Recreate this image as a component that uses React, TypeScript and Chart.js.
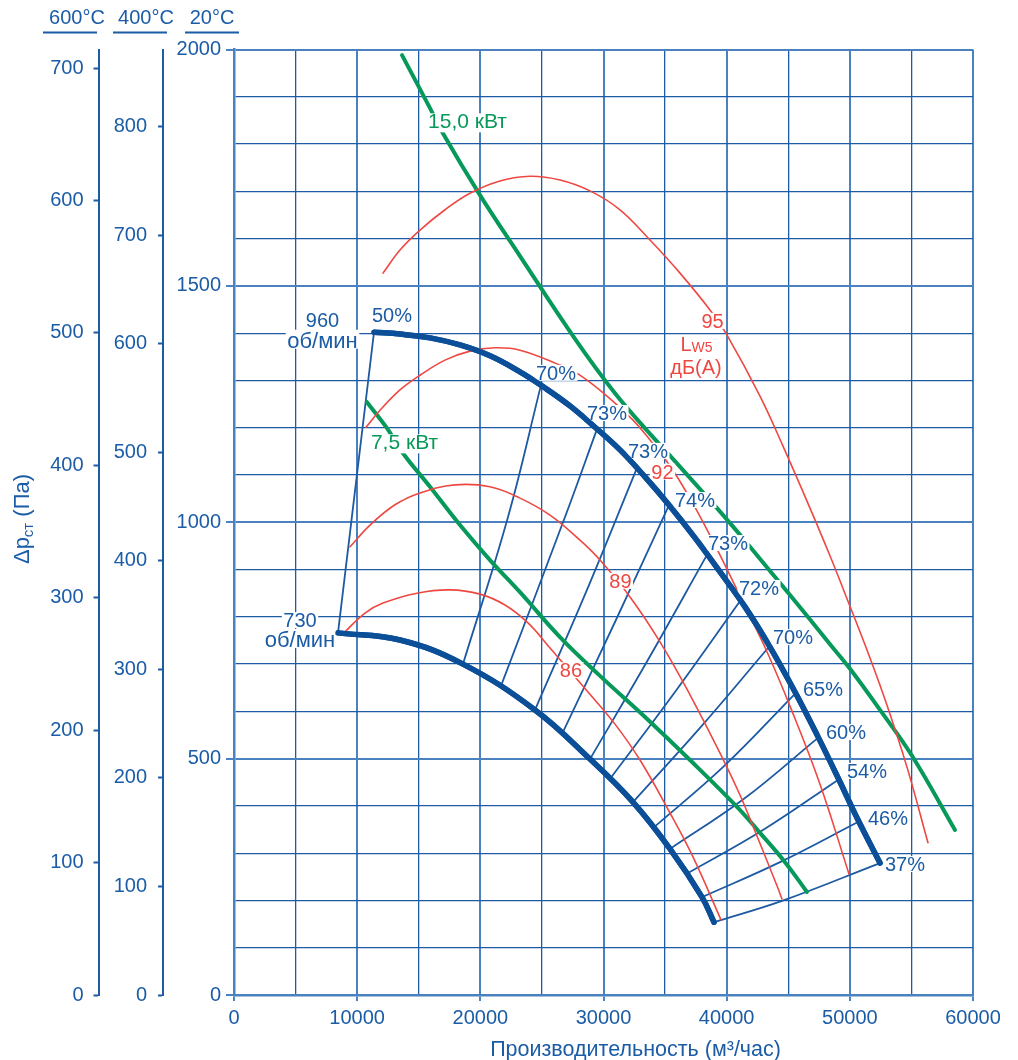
import React, { useEffect, useRef } from 'react';
import { Chart, registerables } from 'chart.js';

Chart.register(...registerables);

// ---------- data (Q in m3/h, static pressure in Pa at 20°C) ----------
const rpm960 = [[11370,1402],[13480,1398],[15920,1390],[18350,1375],[20790,1352],[23220,1318],[25250,1284],[27280,1246],[29310,1201],[31340,1153],[33370,1096],[35400,1034],[37430,967],[39460,895],[41490,821],[43520,736],[45550,641],[47420,546],[49050,459],[50670,370],[52450,279]];
const rpm730 = [[8444,766],[13478,751],[18593,700],[24438,603],[28904,499],[32395,408],[35399,309],[37997,207],[38971,154]];

const effLines = [
  [[8444,766],[11367,1402]],
  [[18593,700],[22246,1011],[24925,1290]],
  [[21678,654],[26874,1011],[29472,1197]],
  [[24438,603],[28579,852],[32720,1115]],
  [[26630,552],[30933,789],[35318,1036]],
  [[28904,499],[33613,709],[38403,931]],
  [[30527,457],[35805,641],[41163,836]],
  [[32395,408],[37834,565],[43355,734]],
  [[34019,353],[39783,484],[45548,637]],
  [[35399,309],[41407,415],[47415,544]],
  [[36860,258],[42949,349],[49038,455]],
  [[37997,207],[44330,281],[50663,366]],
  [[38971,154],[44492,199],[52449,279]],
];
const effLabels = ['50%','70%','73%','73%','74%','73%','72%','70%','65%','60%','54%','46%','37%'];
const effLabelAt = [[12828,1438],[26143,1316],[30284,1231],[33613,1151],[37429,1047],[40108,956],[42625,861],[45385,757],[47821,647],[49688,556],[51393,474],[53098,374],[54478,277]];

const noise95 = [[12097,1527],[13478,1576],[15101,1618],[17131,1661],[19161,1696],[21597,1722],[24033,1732],[26468,1724],[28904,1701],[31340,1661],[33775,1597],[36211,1527],[38646,1449],[40027,1396],[42706,1267],[44573,1161],[46765,1030],[48389,929],[49850,833],[51636,713],[53017,613],[54641,482],[56346,322]];
const noise92 = [[10717,1201],[11854,1237],[13478,1280],[15101,1311],[17131,1343],[19161,1362],[21191,1369],[23221,1364],[26224,1335],[27929,1314],[30284,1267],[32313,1218],[33369,1187],[35399,1119],[37185,1043],[39296,939],[41326,831],[43274,726],[45141,611],[47577,446],[49932,256]];
const noise89 = [[9418,948],[11042,994],[13072,1037],[15101,1062],[17943,1079],[20785,1075],[23221,1051],[25656,1015],[28092,962],[29716,920],[32151,842],[34587,747],[37023,635],[39702,499],[41082,423],[42138,357],[44086,231],[44492,203]];
const noise86 = [[8850,764],[10636,808],[12097,829],[14858,850],[17537,857],[19973,848],[22002,825],[23870,787],[25656,734],[28741,641],[30933,573],[32963,497],[35399,385],[37266,292],[39540,159]];
const noiseLabels = ['95','92','89','86'];
const noiseLabelAt = [[38850,1426],[34790,1107],[31380,876],[27361,687]];
const noiseUnitAt = [[37550,1376],[37510,1329]];

const power15 = [[13640,1988],[15913,1876],[16888,1826],[19973,1692],[23221,1563],[27686,1388],[30933,1273],[34019,1180],[35561,1136],[37672,1075],[39215,1030],[40676,986],[41894,948],[45141,846],[48389,742],[50013,690],[52449,603],[55047,506],[58538,349]];
const power75 = [[10798,1254],[12422,1199],[13721,1146],[15913,1075],[18349,994],[20785,920],[23221,852],[26468,757],[29716,675],[33369,588],[37023,497],[40839,398],[42706,343],[44736,281],[46522,218]];
const powerLabels = ['15,0 кВт','7,5 кВт'];
const powerLabelAt = [[18958,1848],[13843,1169]];

const rpmLabels = [['960','об/мин'],['730','об/мин']];
const rpmLabelAt = [[[7185,1427],[7185,1384]],[[5359,793],[5359,751]]];

const tempTitles = ['600°C','400°C','20°C'];
const xTitle = 'Производительность (м³/час)';
const xTitleAnchor = 32600;
const ratio400 = 2.2963; // p(20°C) / p(400°C)
const ratio600 = 2.801;  // p(20°C) / p(600°C) as drawn

// ---------- styles ----------
const FONT = '"Liberation Sans", Arial, Helvetica, sans-serif';
const TXT = '#1b5ca6';
const GRID = '#1d5ca4';
const GRID_MAJOR = '#4a82c0';
const THICK = '#0b4f99';
const THIN = '#1d5aa2';
const RED = '#ee4842';
const GREEN = '#07995a';

export default function App() {
  const ref = useRef<HTMLCanvasElement>(null);

  useEffect(() => {
    document.body.style.margin = '0';
    const canvas = ref.current!;
    const pts = (a: number[][]) => a.map(([x, y]) => ({ x, y }));
    const ds = (data: number[][], color: string, width: number, order: number) => ({
      type: 'line',
      data: pts(data),
      borderColor: color,
      borderWidth: width,
      pointRadius: 0,
      fill: false,
      borderCapStyle: 'round',
      borderJoinStyle: 'round',
      tension: data.length > 2 ? 0.4 : 0,
      order,
      xAxisID: 'x',
      yAxisID: 'y',
    });

    const datasets: any[] = [];
    effLines.forEach((l) => datasets.push(ds(l, THIN, 1.8, 4)));
    const thickIdx = [datasets.length, datasets.length + 1];
    datasets.push(ds(rpm960, THICK, 5.5, 3));
    datasets.push(ds(rpm730, THICK, 5.5, 3));
    datasets.push(ds(power15, GREEN, 4, 2));
    datasets.push(ds(power75, GREEN, 4, 2));
    [noise95, noise92, noise89, noise86].forEach((n) => datasets.push(ds(n, RED, 1.6, 1)));

    const labelPlugin = {
      id: 'labelPlugin',
      afterDatasetsDraw(chart: any) {
        const { ctx, scales } = chart;
        const sx = scales.x, sy = scales.y;
        type Item = { text: string; left: number; base: number; color: string; font: string; box: boolean; w: number; asc: number; desc: number };
        const items: Item[] = [];
        const add = (text: string, vx: number, vy: number, color: string, size = 20, box = true, dy = 0, align = 'center') => {
          const px = sx.getPixelForValue(vx);
          const py = sy.getPixelForValue(vy) + dy;
          const font = `${size}px ${FONT}`;
          ctx.font = font;
          const m = ctx.measureText(text);
          const w = m.width;
          const left = align === 'center' ? px - w / 2 : px;
          items.push({ text, left, base: py + 7, color, font, box, w, asc: m.actualBoundingBoxAscent, desc: m.actualBoundingBoxDescent });
        };
        effLabels.forEach((t, i) => add(t, effLabelAt[i][0], effLabelAt[i][1], TXT));
        noiseLabels.forEach((t, i) => add(t, noiseLabelAt[i][0], noiseLabelAt[i][1], RED));
        powerLabels.forEach((t, i) => add(t, powerLabelAt[i][0], powerLabelAt[i][1], GREEN, 21));
        rpmLabels.forEach((pair, i) => pair.forEach((t, j) => add(t, rpmLabelAt[i][j][0], rpmLabelAt[i][j][1], TXT, j === 1 ? 22 : 20)));
        add('дБ(А)', noiseUnitAt[1][0], noiseUnitAt[1][1], RED);
        {
          ctx.font = `20px ${FONT}`;
          const wL = ctx.measureText('L').width;
          ctx.font = `14px ${FONT}`;
          const wS = ctx.measureText('W5').width;
          const px = sx.getPixelForValue(noiseUnitAt[0][0]);
          const left = px - (wL + wS) / 2;
          add('L', sx.getValueForPixel(left), noiseUnitAt[0][1], RED, 20, false, 0, 'left');
          add('W5', sx.getValueForPixel(left + wL), noiseUnitAt[0][1], RED, 14, false, 1, 'left');
        }
        ctx.save();
        ctx.fillStyle = '#ffffff';
        items.forEach((it) => {
          if (!it.box) return;
          ctx.fillRect(it.left - 1.5, it.base - it.asc - 1, it.w + 3, it.asc + it.desc + 2);
        });
        ctx.restore();
        thickIdx.forEach((i) => {
          const meta = chart.getDatasetMeta(i);
          if (meta && meta.controller) meta.controller.draw();
        });
        ctx.save();
        ctx.textAlign = 'left';
        ctx.textBaseline = 'alphabetic';
        items.forEach((it) => {
          ctx.font = it.font;
          ctx.fillStyle = it.color;
          ctx.fillText(it.text, it.left, it.base);
        });
        ctx.restore();
      },
      afterDraw(chart: any) {
        const { ctx, scales } = chart;
        ctx.save();
        ctx.fillStyle = TXT;
        ctx.textBaseline = 'alphabetic';
        ctx.textAlign = 'center';
        ctx.font = `20px ${FONT}`;
        const a600 = scales.y600.right, a400 = scales.y400.right, a20 = scales.y.right;
        const specs = [
          [a600 - 21.5, a600 - 55.5, a600 - 1.5],
          [a400 - 17, a400 - 50, a400 + 4],
          [a20 - 22, a20 - 49, a20 + 5],
        ];
        tempTitles.forEach((t, i) => {
          const [cx, u0, u1] = specs[i];
          ctx.fillText(t, cx, 24);
          ctx.fillRect(u0, 31.5, u1 - u0, 2);
        });
        ctx.font = `21.5px ${FONT}`;
        ctx.fillText(xTitle, scales.x.getPixelForValue(xTitleAnchor), scales.x.bottom - 4);
        ctx.translate(21, 519);
        ctx.rotate(-Math.PI / 2);
        ctx.textAlign = 'left';
        const f1 = `22px ${FONT}`, f2 = `15px ${FONT}`;
        ctx.font = f1;
        const w1 = ctx.measureText('Δp').width;
        const w3 = ctx.measureText(' (Па)').width;
        ctx.font = f2;
        const w2 = ctx.measureText('ст').width;
        let cx = -(w1 + w2 + w3) / 2;
        ctx.font = f1; ctx.fillText('Δp', cx, 8); cx += w1;
        ctx.font = f2; ctx.fillText('ст', cx, 12); cx += w2;
        ctx.font = f1; ctx.fillText(' (Па)', cx, 8);
        ctx.restore();
      },
    };

    const tickFont = { family: FONT, size: 20 };
    const chart = new Chart(canvas, {
      type: 'line',
      data: { datasets },
      options: {
        animation: false,
        responsive: false,
        parsing: false,
        normalized: true,
        layout: { padding: { left: 0, right: 45, top: 49.5, bottom: 0 } },
        plugins: { legend: { display: false }, tooltip: { enabled: false }, title: { display: false } },
        scales: {
          x: {
            type: 'linear',
            position: 'bottom',
            min: 0,
            max: 60000,
            afterFit: (s: any) => { s.height = 65; },
            ticks: {
              stepSize: 5000,
              autoSkip: false,
              maxRotation: 0,
              includeBounds: false,
              padding: 5,
              color: TXT,
              font: tickFont,
              callback: (v: any) => (Number(v) % 10000 === 0 ? String(v) : ''),
            },
            grid: {
              color: (c: any) => (c.tick && c.tick.value % 10000 === 0 ? GRID_MAJOR : GRID),
              lineWidth: (c: any) => (c.tick && c.tick.value % 10000 === 0 ? 2 : 1.3),
              tickColor: (c: any) => (c.tick && c.tick.value % 10000 === 0 ? GRID_MAJOR : 'rgba(0,0,0,0)'),
              tickLength: 6,
              tickWidth: 2,
            },
            border: { display: true, color: GRID_MAJOR, width: 2.5 },
            title: { display: false },
          },
          y: {
            type: 'linear',
            position: 'left',
            weight: 0,
            min: 0,
            max: 2000,
            afterFit: (s: any) => { s.width = 71; },
            ticks: {
              stepSize: 100,
              autoSkip: false,
              includeBounds: false,
              padding: 5,
              color: TXT,
              font: tickFont,
              callback: (v: any) => (Number(v) % 500 === 0 ? String(v) : ''),
            },
            grid: {
              color: (c: any) => (c.tick && c.tick.value % 500 === 0 ? GRID_MAJOR : GRID),
              lineWidth: (c: any) => (c.tick && c.tick.value % 500 === 0 ? 2 : 1.3),
              tickColor: (c: any) => (c.tick && c.tick.value % 500 === 0 ? GRID_MAJOR : 'rgba(0,0,0,0)'),
              tickLength: 8,
              tickWidth: 2,
            },
            border: { display: true, color: GRID_MAJOR, width: 2.5 },
          },
          y400: {
            type: 'linear',
            position: 'left',
            weight: 1,
            min: 0,
            max: 2000 / ratio400,
            afterFit: (s: any) => { s.width = 64.5; },
            ticks: { stepSize: 100, autoSkip: false, includeBounds: false, padding: 11, color: TXT, font: tickFont, callback: (v: any) => String(v) },
            grid: { drawOnChartArea: false, drawTicks: true, tickLength: 5, tickWidth: 2, tickColor: GRID, color: GRID },
            border: { display: true, color: GRID, width: 2 },
          },
          y600: {
            type: 'linear',
            position: 'left',
            weight: 2,
            min: 0,
            max: 2000 / ratio600,
            afterFit: (s: any) => { s.width = 98.5; },
            ticks: { stepSize: 100, autoSkip: false, includeBounds: false, padding: 10, color: TXT, font: tickFont, callback: (v: any) => String(v) },
            grid: { drawOnChartArea: false, drawTicks: true, tickLength: 5, tickWidth: 2, tickColor: GRID, color: GRID },
            border: { display: true, color: GRID, width: 2 },
          },
        },
      } as any,
      plugins: [labelPlugin],
    });
    return () => chart.destroy();
  }, []);

  return (
    <div style={{ width: 1018, height: 1060, background: '#fff' }}>
      <canvas ref={ref} width={1018} height={1060} style={{ display: 'block', width: 1018, height: 1060 }} />
    </div>
  );
}
